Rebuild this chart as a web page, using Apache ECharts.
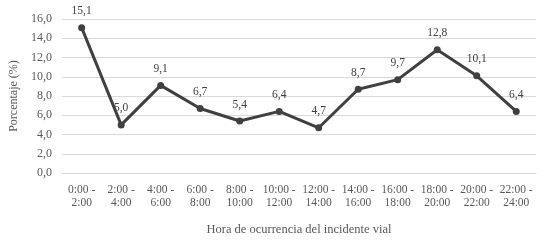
<!DOCTYPE html>
<html>
<head>
<meta charset="utf-8">
<script src="https://cdn.jsdelivr.net/npm/echarts@6/dist/echarts.min.js"></script>
<style>
  html, body { margin: 0; padding: 0; background: #fff; }
  #chart { width: 545px; height: 247px; }
</style>
</head>
<body>
<div id="chart"></div>
<script>
// horas del día (categorías) y porcentaje de incidentes
const horas = ['0:00 -\n2:00', '2:00 -\n4:00', '4:00 -\n6:00', '6:00 -\n8:00', '8:00 -\n10:00', '10:00 -\n12:00',
    '12:00 -\n14:00', '14:00 -\n16:00', '16:00 -\n18:00', '18:00 -\n20:00', '20:00 -\n22:00', '22:00 -\n24:00']
const porcentaje = [15.1, 5.0, 9.1, 6.7, 5.4, 6.4, 4.7, 8.7, 9.7, 12.8, 10.1, 6.4]

const fmt = v => v.toFixed(1).replace('.', ',')
const serif = 'Liberation Serif'
const gris = '#595959'

const chart = echarts.init(document.getElementById('chart'))
chart.setOption({
    animation: false,
    textStyle: { fontFamily: serif },
    grid: { left: 59, right: 9, top: 19, bottom: 74 },
    xAxis: {
        type: 'category',
        data: horas,
        name: 'Hora de ocurrencia del incidente vial',
        nameLocation: 'middle',
        nameGap: 50,
        nameTextStyle: { color: gris, fontSize: 12.5, fontFamily: serif },
        axisLine: { lineStyle: { color: '#d9d9d9' } },
        axisTick: { show: false },
        axisLabel: { color: gris, fontSize: 11.5, lineHeight: 13, margin: 10, interval: 0, fontFamily: serif }
    },
    yAxis: {
        type: 'value',
        min: 0,
        max: 16,
        interval: 2,
        name: 'Porcentaje (%)',
        nameLocation: 'middle',
        nameGap: 41,
        nameTextStyle: { color: gris, fontSize: 12, fontFamily: serif },
        axisLine: { show: false },
        axisTick: { show: false },
        splitLine: { lineStyle: { color: '#d9d9d9' } },
        axisLabel: { color: gris, fontSize: 12, margin: 10, formatter: v => fmt(v), fontFamily: serif }
    },
    series: [{
        type: 'line',
        data: porcentaje,
        symbol: 'circle',
        symbolSize: 7,
        lineStyle: { color: '#404040', width: 3 },
        itemStyle: { color: '#404040' },
        label: {
            show: true,
            position: 'top',
            distance: 7,
            color: '#404040',
            fontSize: 11.5,
            fontFamily: serif,
            formatter: p => fmt(p.value)
        }
    }]
})
</script>
</body>
</html>
